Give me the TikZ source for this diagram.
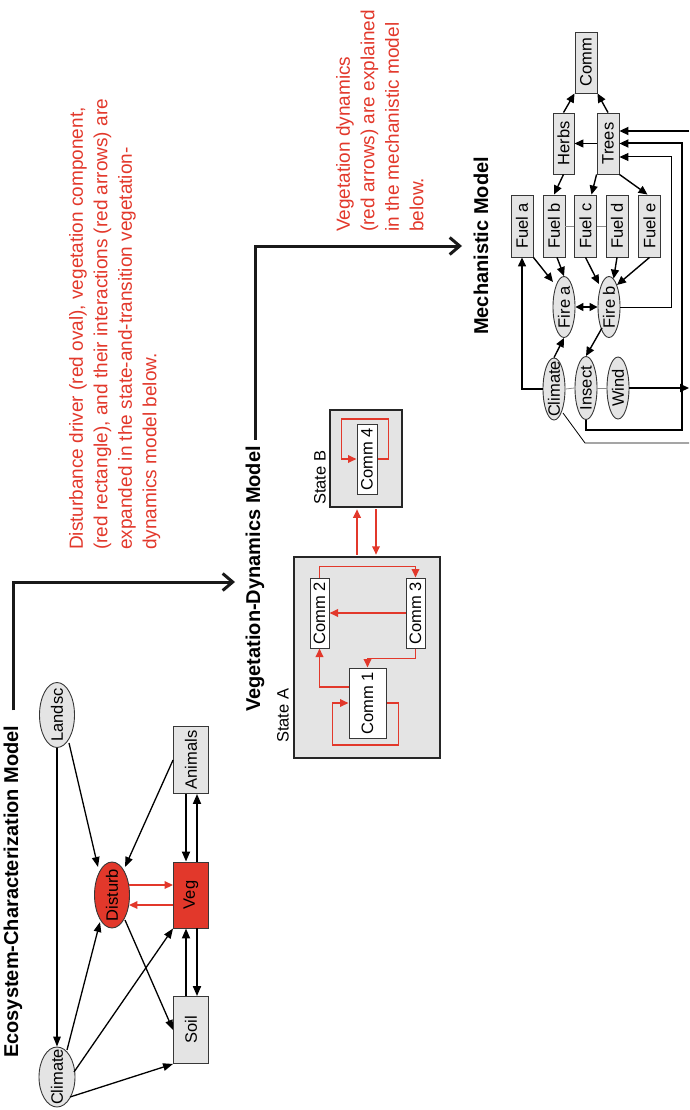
\documentclass[tikz,border=0pt]{standalone}
\usepackage{fontspec}
\setmainfont{Liberation Sans}
\usetikzlibrary{shapes.geometric,arrows.meta,calc}
\definecolor{myred}{RGB}{226,56,43}
\definecolor{boxgray}{RGB}{228,228,228}
\definecolor{edgegray}{RGB}{55,55,55}
\newcommand{\zbox}[1]{\makebox[0pt]{#1}}
\begin{document}
\begin{tikzpicture}[x=1pt,y=-1pt,
  lbl/.style={font=\fontsize{16.5}{19}\selectfont},
  rbox/.style={rectangle, draw=edgegray, line width=0.9pt, fill=boxgray, rotate=90, inner sep=0pt, lbl},
  ell/.style={ellipse, draw=edgegray, line width=0.9pt, fill=boxgray, rotate=90, inner sep=0pt, lbl},
  cbox/.style={rectangle, draw=edgegray, line width=1pt, fill=white, rotate=90, inner sep=0pt, lbl},
  statebox/.style={rectangle, draw=black!85, line width=2.5pt, fill=boxgray, inner sep=0pt},
  title/.style={rotate=90, anchor=west, inner sep=0pt, font=\bfseries\fontsize{20}{24}\selectfont},
  note/.style={rotate=90, anchor=north west, inner sep=0pt, align=left, text=myred, font=\fontsize{19}{24.5}\selectfont},
  tag/.style={rotate=90, anchor=west, inner sep=0pt, lbl},
  flow/.style={line width=3pt, draw=black!90, -{Straight Barb[length=10pt,width=17pt]}},
  arr/.style={line width=1.3pt, -{Triangle[length=10pt,width=7.5pt]}},
  darr/.style={line width=1.8pt, -{Triangle[length=10pt,width=8pt]}},
  rarr/.style={draw=myred, line width=1.8pt, -{Triangle[length=8.5pt,width=7.5pt]}},
  marr/.style={line width=1.4pt, -{Triangle[length=9pt,width=8pt]}},
  glink/.style={draw=black!45, line width=0.8pt}
]
\useasboundingbox (0,0) rectangle (689,1110);

% ---------------- titles and notes
\node[title] (T1) at (13,1058) {Ecosystem-Characterization Model};
\node[title] (T2) at (255,712) {Vegetation-Dynamics Model};
\node[title] (T3) at (481,335) {Mechanistic Model};
\coordinate (f1) at (235,582);
\coordinate (f2) at (462,246);
\draw[flow] ($(T1.east)+(0,-15)$) |- (f1);
\draw[flow] ($(T2.east)+(0,-6)$) |- (f2);

\node[note] (N1) at (69,550) {Disturbance driver (red oval), vegetation component,\\(red rectangle), and their interactions (red arrows) are\\expanded in the state-and-transition vegetation-\\dynamics model below.};
\node[note] (N2) at (336,232) {Vegetation dynamics\\(red arrows) are explained\\in the mechanistic model\\below.};

% ---------------- ecosystem model
\node[ell, minimum width=65pt, minimum height=35pt] (Landsc) at (57,715) {\zbox{Landsc}};
\node[ell, minimum width=60pt, minimum height=36pt] (ClimateE) at (57,1077) {\zbox{Climate}};
\node[ell, fill=myred, minimum width=66pt, minimum height=35pt] (Disturb) at (112,895) {\zbox{Disturb}};
\node[rbox, fill=myred, minimum width=66pt, minimum height=35pt] (Veg) at (191,895) {\zbox{Veg}};
\node[rbox, minimum width=67pt, minimum height=35pt] (Animals) at (191,760) {\zbox{Animals}};
\node[rbox, minimum width=67pt, minimum height=35pt] (Soil) at (191,1030) {\zbox{Soil}};

\draw[arr] (Landsc) -- (ClimateE);
\draw[arr] ($(Landsc)+(12,28)$) -- ($(Disturb)+(-14,-28)$);
\draw[arr] (Animals.north) -- ($(Disturb)+(13,-28)$);
\draw[darr] ($(Animals.west)+(-5,0)$) -- ($(Veg.east)+(-5,0)$);
\draw[darr] ($(Veg.east)+(6,0)$) -- ($(Animals.west)+(6,0)$);
\draw[rarr] ($(Disturb.south)+(-1,-10)$) -- ($(Veg.north)+(0,-10)$);
\draw[rarr] ($(Veg.north)+(0,10)$) -- ($(Disturb.south)+(-1,10)$);
\draw[arr] ($(Disturb)+(13,25)$) -- (Soil.north);
\draw[darr] ($(Veg.west)+(6,0)$) -- ($(Soil.east)+(6,0)$);
\draw[darr] ($(Soil.east)+(-5,0)$) -- ($(Veg.west)+(-5,0)$);
\draw[arr] ($(ClimateE)+(10,-27)$) -- ($(Disturb)+(-12,27)$);
\draw[arr] ($(ClimateE)+(17,-5)$) -- (Veg.north west);
\draw[arr] ($(ClimateE)+(13,20)$) -- (Soil.north west);

% ---------------- vegetation dynamics model
\node[statebox, minimum width=146pt, minimum height=201pt] (StateA) at (367,657.5) {};
\node[statebox, minimum width=72pt, minimum height=97pt] (StateB) at (366,458.5) {};
\node[tag] (LA) at (283,743) {State A};
\node[tag] (LB) at (320,505) {State B};

\node[cbox, minimum width=70pt, minimum height=37pt] (C1) at (367.5,703) {\zbox{Comm 1}};
\node[cbox, minimum width=70pt, minimum height=19pt] (C2) at (319.5,613) {\zbox{Comm 2}};
\node[cbox, minimum width=70pt, minimum height=19pt] (C3) at (415.5,613) {\zbox{Comm 3}};
\node[cbox, minimum width=70pt, minimum height=20pt] (C4) at (367,459) {\zbox{Comm 4}};

\draw[rarr] (C1.south) -- ++(12,0) -- ++(0,42) -- ++(-66,0) -- ++(0,-42) -- (C1.north);
\draw[rarr] ($(C1.north)+(0,-16)$) -| (C2.west);
\draw[rarr] (C2.east) |- ($(C2.east)!0.5!(C3.east)+(0,-11)$) -| (C3.east);
\draw[rarr] (C3.north) -- (C2.south);
\draw[rarr] (C3.west) -- ++(0,10) -| (C1.east);
\draw[rarr, line width=2pt] ($(StateA.north)+(-10,-1)$) -- ($(StateB.south)+(-9,1)$);
\draw[rarr, line width=2pt] ($(StateB.south)+(10,1)$) -- ($(StateA.north)+(9,-1)$);
\draw[rarr] (C4.south) -- ++(11,0) -- ++(0,-40) -- ++(-47,0) -- ++(0,40) -- (C4.north);

% ---------------- mechanistic model
\node[rbox, minimum width=61pt, minimum height=22pt] (Comm) at (586,62.5) {\zbox{Comm}};
\node[rbox, minimum width=61pt, minimum height=21pt] (Herbs) at (563.5,143.5) {\zbox{Herbs}};
\node[rbox, minimum width=61pt, minimum height=22pt] (Trees) at (608,143.5) {\zbox{Trees}};
\node[rbox, minimum width=62pt, minimum height=22pt] (Fuela) at (522,226) {\zbox{Fuel a}};
\node[rbox, minimum width=62pt, minimum height=22pt] (Fuelb) at (554,226) {\zbox{Fuel b}};
\node[rbox, minimum width=62pt, minimum height=22pt] (Fuelc) at (585.5,226) {\zbox{Fuel c}};
\node[rbox, minimum width=62pt, minimum height=22pt] (Fueld) at (617,226) {\zbox{Fuel d}};
\node[rbox, minimum width=62pt, minimum height=22pt] (Fuele) at (649.5,226) {\zbox{Fuel e}};
\node[ell, minimum width=61pt, minimum height=22pt] (Firea) at (564,307) {\zbox{Fire a}};
\node[ell, minimum width=61pt, minimum height=22pt] (Fireb) at (609,307) {\zbox{Fire b}};
\node[ell, minimum width=62pt, minimum height=22pt] (ClimateM) at (554,389) {\zbox{Climate}};
\node[ell, minimum width=63pt, minimum height=22pt] (Insect) at (586,388) {\zbox{Insect}};
\node[ell, minimum width=62pt, minimum height=22pt] (Wind) at (618,388) {\zbox{Wind}};

\draw[glink] (Fuelb.south) -- (Fuelc.north);
\draw[glink] (Fuelc.south) -- (Fueld.north);
\draw[glink] (ClimateM.south) -- (Insect.north);
\draw[glink] (Insect.south) -- (Wind.north);

\draw[marr] (Herbs.east) -- (Comm.north west);
\draw[marr] (Trees.east) -- (Comm.south west);
\draw[marr] (Trees.north) -- (Herbs.south);
\draw[marr] (Herbs.west) -- (Fuelb.east);
\draw[marr] (Trees.north west) -- ($(Fuelc.east)+(6,0)$);
\draw[marr] (Trees.south west) -- ($(Fuele.east)+(-2,0)$);
\draw[marr] (Fuela.south west) -- ($(Firea)+(-11,-25)$);
\draw[marr] ($(Fuelb.west)+(3,0)$) -- (Firea.east);
\draw[marr] (Fuelc.west) -- ($(Fireb)+(-10,-23)$);
\draw[marr] (Fueld.west) -- (Fireb);
\draw[marr] (Fuele.west) -- ($(Fireb)+(8,-22)$);
\draw[line width=1.4pt, {Triangle[length=8pt,width=8pt]}-{Triangle[length=8pt,width=8pt]}] (Firea.south) -- (Fireb.north);
\draw[marr] (ClimateM.east) -- (Firea.west);
\draw[marr] ($(Fireb)+(-7,21)$) -- (Insect.east);
\draw[marr] (ClimateM.north) -| (Fuela.west);

\coordinate (windout) at (689,388);
\draw[marr, line width=2pt] (Wind.south) -- (windout);
\coordinate (rt) at (682,430);
\draw[marr, line width=2pt] (Insect.west) |- (rt) |- (Trees.south);
\coordinate (fb) at (671,157);
\draw[marr, line width=1pt] (Fireb.south) -| (fb) -- ($(Trees.south)+(0,13.5)$);
\coordinate (topin) at (689,131);
\draw[marr, line width=2pt] (topin) -- ($(Trees.south)+(0,-12.5)$);
\coordinate (cl1) at (585,443);
\coordinate (cl2) at (689,443);
\draw[line width=0.8pt] ($(ClimateM)+(9,24)$) -- (cl1) -- (cl2);
\end{tikzpicture}
\end{document}
